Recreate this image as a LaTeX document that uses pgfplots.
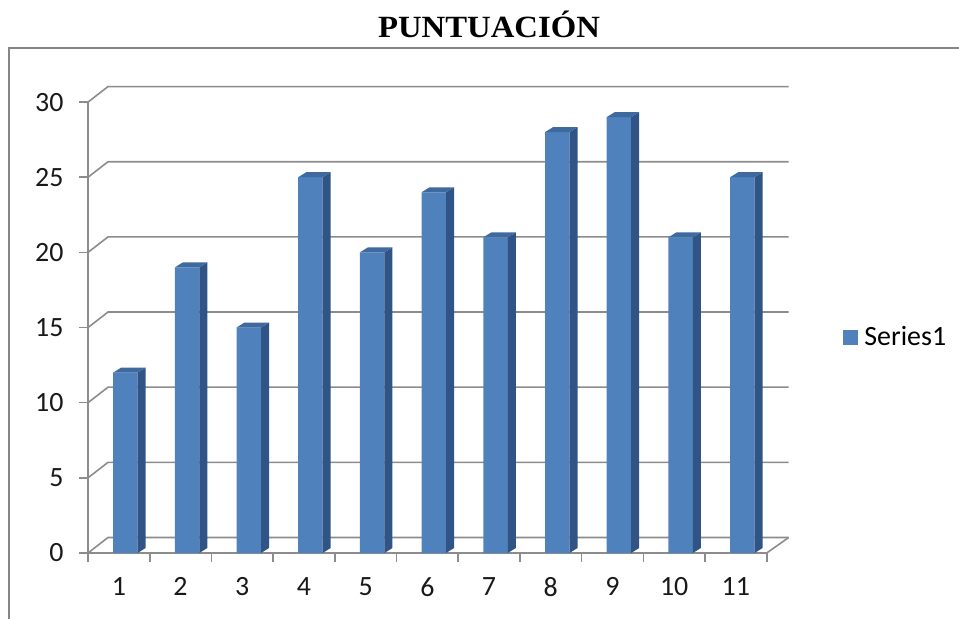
\documentclass[border=0pt]{standalone}
\usepackage{fontspec}
\setmainfont{Carlito}
\newfontfamily\titlefont{Liberation Serif}
\usepackage{graphicx}
\usepackage{pgfplots}
\pgfplotsset{compat=1.18}
\usepackage{pgfplotstable}

\definecolor{barfront}{HTML}{4F81BD}
\definecolor{barside}{HTML}{2F5485}
\definecolor{bartop}{HTML}{3E6AA0}
\definecolor{gridc}{HTML}{8C8C8C}
\definecolor{framec}{HTML}{868686}

\pgfplotstableread{
x v
1 12
2 19
3 15
4 25
5 20
6 24
7 21
8 28
9 29
10 21
11 25
}\scores

% side and top faces of a 3D column, drawn at the top of each bar
\pgfdeclareplotmark{bar3d}{%
  \pgfmathsetmacro\hb{-\barval*15.03}%
  \pgfmathsetmacro\hc{5-\barval*15.03}%
  \pgfsetfillcolor{barside}%
  \pgfpathmoveto{\pgfpoint{18.75bp}{0bp}}%
  \pgfpathlineto{\pgfpoint{26.75bp}{5bp}}%
  \pgfpathlineto{\pgfpoint{26.75bp}{\hc bp}}%
  \pgfpathlineto{\pgfpoint{18.75bp}{\hb bp}}%
  \pgfpathclose
  \pgfusepath{fill}%
  \pgfsetfillcolor{bartop}%
  \pgfpathmoveto{\pgfpoint{-5.75bp}{0bp}}%
  \pgfpathlineto{\pgfpoint{18.75bp}{0bp}}%
  \pgfpathlineto{\pgfpoint{26.75bp}{5bp}}%
  \pgfpathlineto{\pgfpoint{2.25bp}{5bp}}%
  \pgfpathclose
  \pgfusepath{fill}%
}

\begin{document}
\begin{tikzpicture}
\useasboundingbox (0,0) rectangle (959bp,619bp);
\draw[framec, line width=2.5bp] (9bp,-5bp) -- (9bp,571bp) -- (965bp,571bp);
\node[anchor=base] at (489bp,581bp)
  {\scalebox{1.06}[1]{\titlefont\bfseries\fontsize{31}{31}\selectfont PUNTUACIÓN}};

\begin{axis}[
  at={(88bp,66bp)}, anchor=south west,
  x=61.7bp, y=15.03bp,
  xmin=0.5, xmax=11.5,
  ymin=0, ymax=30,
  clip=false,
  axis x line*=bottom,
  axis y line*=left,
  axis line style={-, gridc, line width=1.6bp},
  tick style={gridc, line width=1.6bp},
  tick align=outside,
  major tick length=9bp,
  xtick={0.5,1.5,...,11.5},
  xticklabels={1,2,3,4,5,6,7,8,9,10,11,{}},
  xticklabel style={xshift=30.85bp, yshift=-12bp},
  ytick={0,5,...,30},
  yticklabel style={xshift=-12bp},
  /pgf/number format/assume math mode=true,
  tick label style={font=\fontsize{28}{28}\selectfont, text=black!90},
  legend style={at={(axis cs:12.74,14.37)}, anchor=west, draw=none, fill=none,
    font=\fontsize{28}{28}\selectfont, inner sep=0pt,
    nodes={inner xsep=6bp}},
  legend cell align=left,
]
\pgfplotsinvokeforeach{0,5,10,15,20,25,30}{
  \draw[gridc, line width=1.6bp] (axis cs:0.5,#1) -- ([shift={(20bp,15.5bp)}]axis cs:0.5,#1)
    -- ([shift={(22bp,15.5bp)}]axis cs:11.5,#1);
}
\draw[gridc, line width=1.6bp] (axis cs:11.5,0) -- ++(22bp,15.5bp);

\addplot[ybar, bar width=24.5bp, bar shift=6.5bp, fill=barfront, draw=none,
  legend image code/.code={\fill[barfront] (0bp,-7.5bp) rectangle (15bp,7.5bp);}]
  table[x=x, y=v] {\scores};
\addlegendentry{Series1}
\addplot[only marks, mark=bar3d, forget plot,
  visualization depends on={\thisrow{v} \as \barval}]
  table[x=x, y=v] {\scores};
\end{axis}
\end{tikzpicture}
\end{document}
